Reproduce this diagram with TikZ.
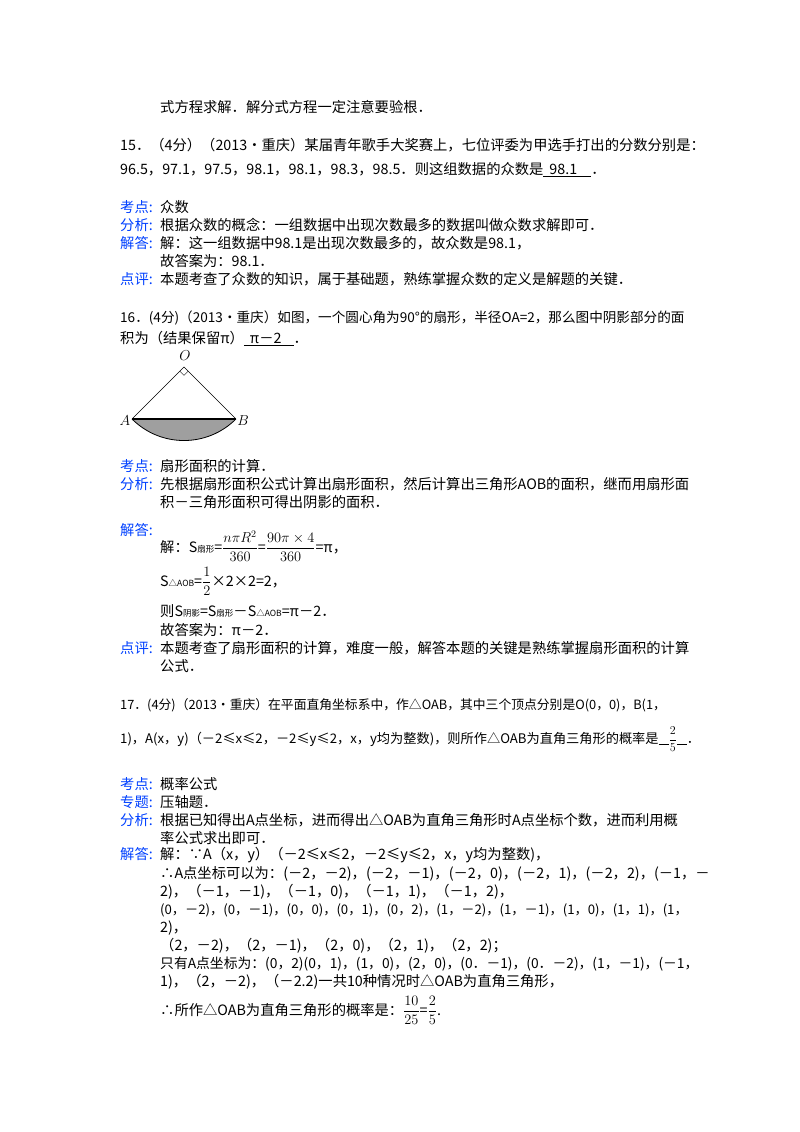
\documentclass[tikz,border=0pt]{standalone}
\usepackage{amsmath}
\usepackage{fontspec}
\setmainfont{Noto Sans CJK SC}
\usetikzlibrary{calc}
\newcommand\sm[1]{{\fontsize{8.5}{9}\selectfont #1}}
\newcommand\blank[1]{\rule[-2pt]{#1}{0.6pt}}
\begin{document}
\begin{tikzpicture}[x=1pt,y=-1pt,
  t/.style={anchor=base west,inner sep=0pt,font=\fontsize{14.3}{16}\selectfont},
  k/.style={t,text=blue!75!cyan},
  lab/.style={font=\fontsize{15}{16}\selectfont}]
\useasboundingbox (0,0) rectangle (800,1132);
\node[t] (l0) at (160,112) {式方程求解．解分式方程一定注意要验根．};
\node[t] (l1) at (120,150) {15．（4分）（2013•重庆）某届青年歌手大奖赛上，七位评委为甲选手打出的分数分别是：};
\node[t] (l2) at (120,174) {96.5，97.1，97.5，98.1，98.1，98.3，98.5．则这组数据的众数是\underline{\hspace{6pt}98.1\hspace{14pt}}．};
\node[k] (k1) at (120,212) {考点:};
\node[t] at (160,212) {众数};
\node[k] at (120,230) {分析:};
\node[t] at (160,230) {根据众数的概念：一组数据中出现次数最多的数据叫做众数求解即可．};
\node[k] at (120,248) {解答:};
\node[t] at (160,248) {解：这一组数据中98.1是出现次数最多的，故众数是98.1，};
\node[t] at (160,266) {故答案为：98.1．};
\node[k] at (120,284) {点评:};
\node[t] at (160,284) {本题考查了众数的知识，属于基础题，熟练掌握众数的定义是解题的关键．};
\node[t,font=\fontsize{13.6}{16}\selectfont] at (120,322) {16．(4分)（2013•重庆）如图，一个圆心角为90°的扇形，半径OA=2，那么图中阴影部分的面};
\node[t] at (120,343) {积为（结果保留π）\underline{\hspace{6pt}π－2\hspace{12pt}}．};
% figure
\coordinate (O) at (184,367);
\coordinate (A) at (132,419);
\coordinate (B) at (236,419);
\fill[gray!75] (A) arc[start angle=135,end angle=45,radius=73.5] -- cycle;
\draw[thick] (A) arc[start angle=135,end angle=45,radius=73.5];
\draw (A) -- (O) -- (B);
\draw[line width=1.2pt] (A) -- (B);
\draw ($(O)+(-4.2,4.2)$) -- ++(4.2,4.2) -- ++(4.2,-4.2);
\node[lab] (Ol) at (185,356) {$O$};
\node[lab] (Al) at (125,421) {$A$};
\node[lab] (Bl) at (243,421) {$B$};
\node[k] at (120,471) {考点:};
\node[t] at (160,471) {扇形面积的计算．};
\node[k] at (120,489) {分析:};
\node[t] at (160,489) {先根据扇形面积公式计算出扇形面积，然后计算出三角形AOB的面积，继而用扇形面};
\node[t] at (160,507) {积－三角形面积可得出阴影的面积．};
\node[k] at (120,535) {解答:};
\node[t] at (160,552) {解：S\sm{扇形}=$\dfrac{n\pi R^2}{360}$=$\dfrac{90\pi\times4}{360}$=π，};
\node[t] at (160,586) {S\sm{△AOB}=$\dfrac{1}{2}$×2×2=2，};
\node[t] at (160,616) {则S\sm{阴影}=S\sm{扇形}－S\sm{△AOB}=π－2．};
\node[t] at (160,635) {故答案为：π－2．};
\node[k] at (120,653) {点评:};
\node[t] at (160,653) {本题考查了扇形面积的计算，难度一般，解答本题的关键是熟练掌握扇形面积的计算};
\node[t] at (160,671) {公式．};
\node[t,font=\fontsize{12.8}{16}\selectfont] at (120,709) {17．(4分)（2013•重庆）在平面直角坐标系中，作△OAB，其中三个顶点分别是O(0，0)，B(1，};
\node[t,font=\fontsize{13.2}{16}\selectfont] at (120,743) {1)，A(x，y)（－2≤x≤2，－2≤y≤2，x，y均为整数)，则所作△OAB为直角三角形的概率是\blank{10pt}$\dfrac{2}{5}$\blank{10pt}．};
\node[k] at (120,789) {考点:};
\node[t] at (160,789) {概率公式};
\node[k] at (120,807) {专题:};
\node[t] at (160,807) {压轴题．};
\node[k] at (120,825) {分析:};
\node[t] at (160,825) {根据已知得出A点坐标，进而得出△OAB为直角三角形时A点坐标个数，进而利用概};
\node[t] at (160,843) {率公式求出即可．};
\node[k] at (120,859) {解答:};
\node[t] at (160,859) {解：∵A（x，y）（－2≤x≤2，－2≤y≤2，x，y均为整数)，};
\node[t] at (160,878) {∴A点坐标可以为：(－2，－2)，(－2，－1)，(－2，0)，(－2，1)，(－2，2)，(－1，－};
\node[t] at (160,896) {2)，（－1，－1)，（－1，0)，（－1，1)，（－1，2)，};
\node[t,font=\fontsize{13.2}{16}\selectfont] at (160,914) {(0，－2)，(0，－1)，(0，0)，(0，1)，(0，2)，(1，－2)，(1，－1)，(1，0)，(1，1)，(1，};
\node[t] at (160,932) {2)，};
\node[t] at (160,950) {（2，－2)，（2，－1)，（2，0)，（2，1)，（2，2)；};
\node[t,font=\fontsize{13.8}{16}\selectfont] at (160,968) {只有A点坐标为：(0，2)(0，1)，(1，0)，(2，0)，(0．－1)，(0．－2)，(1，－1)，(－1，};
\node[t] at (160,986) {1)，（2，－2)，（－2.2)一共10种情况时△OAB为直角三角形，};
\node[t] at (160,1015) {∴所作△OAB为直角三角形的概率是：$\dfrac{10}{25}$=$\dfrac{2}{5}$.};
\end{tikzpicture}
\end{document}
